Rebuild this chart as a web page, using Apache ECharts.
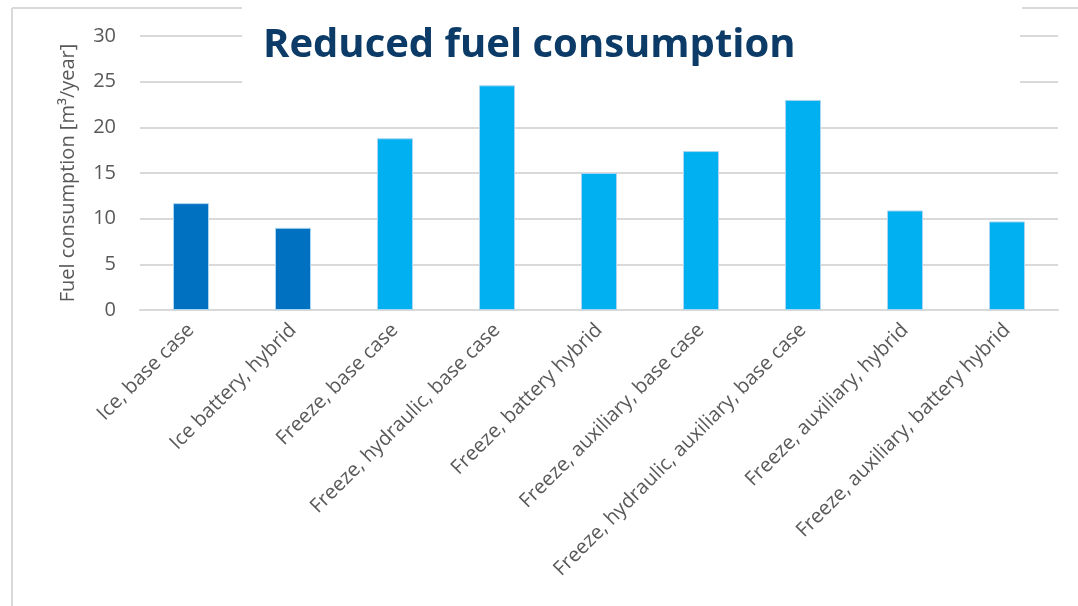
<!DOCTYPE html>
<html>
<head>
<meta charset="utf-8">
<title>Reduced fuel consumption</title>
<script src="https://cdn.jsdelivr.net/npm/echarts@6/dist/echarts.min.js"></script>
<style>
  html, body { margin: 0; padding: 0; background: #ffffff; }
  #chart { width: 1078px; height: 606px; }
</style>
</head>
<body>
<div id="chart"></div>
<script>
// Scenario names along the x axis
const categories = [
  'Ice, base case',
  'Ice battery, hybrid',
  'Freeze, base case',
  'Freeze, hydraulic, base case',
  'Freeze, battery hybrid',
  'Freeze, auxiliary, base case',
  'Freeze, hydraulic, auxiliary, base case',
  'Freeze, auxiliary, hybrid',
  'Freeze, auxiliary, battery hybrid'
];

// Yearly fuel consumption per scenario [m3/year]
const fuelConsumption = [11.7, 9.0, 18.8, 24.6, 15.0, 17.4, 23.0, 10.9, 9.7];

// Vessel group per scenario: 'ice' or 'freeze'
const vesselGroup = ['ice', 'ice', 'freeze', 'freeze', 'freeze', 'freeze', 'freeze', 'freeze', 'freeze'];

// Value axis ticks
const yTicks = [0, 5, 10, 15, 20, 25, 30];

const groupColors = { ice: '#0070C0', freeze: '#00B0F0' };
const textFont = '"Open Sans", "Noto Sans", sans-serif';

const chart = echarts.init(document.getElementById('chart'), null, { renderer: 'canvas' });

chart.setOption({
  backgroundColor: '#ffffff',
  animation: false,
  grid: { left: 140, right: 20, top: 36, bottom: 296 },
  title: {
    text: 'Reduced fuel consumption',
    left: 258,
    top: 21,
    textStyle: {
      fontFamily: textFont,
      fontWeight: 'bold',
      fontSize: 40,
      color: '#0B3B66'
    }
  },
  graphic: [
    // white panel behind the title
    { type: 'rect', z: 1, shape: { x: 242, y: 0, width: 778, height: 84 }, style: { fill: '#ffffff' } },
    // slide frame lines
    { type: 'line', z: 3, shape: { x1: 12, y1: 8, x2: 12, y2: 606 }, style: { stroke: '#d9d9d9', lineWidth: 2 } },
    { type: 'line', z: 3, shape: { x1: 12, y1: 8, x2: 242, y2: 8 }, style: { stroke: '#d9d9d9', lineWidth: 2 } },
    { type: 'line', z: 3, shape: { x1: 1022, y1: 8, x2: 1078, y2: 8 }, style: { stroke: '#d9d9d9', lineWidth: 2 } }
  ],
  xAxis: {
    type: 'category',
    data: categories,
    axisLine: { show: true, lineStyle: { color: '#d9d9d9', width: 2 } },
    axisTick: { show: false },
    axisLabel: {
      rotate: 45,
      interval: 0,
      margin: 17,
      fontFamily: textFont,
      fontSize: 20,
      color: '#595959'
    }
  },
  yAxis: {
    type: 'value',
    min: yTicks[0],
    max: yTicks[yTicks.length - 1],
    interval: yTicks[1] - yTicks[0],
    name: 'Fuel consumption [m\u00B3/year]',
    nameLocation: 'middle',
    nameGap: 62,
    nameTextStyle: {
      fontFamily: textFont,
      fontSize: 20,
      color: '#595959'
    },
    axisLine: { show: false },
    axisTick: { show: false },
    axisLabel: {
      margin: 24,
      fontFamily: textFont,
      fontSize: 20,
      color: '#595959'
    },
    splitLine: { lineStyle: { color: '#d9d9d9', width: 2 } }
  },
  series: [{
    type: 'bar',
    z: 2,
    barWidth: 36,
    data: fuelConsumption.map((v, i) => ({
      value: v,
      itemStyle: {
        color: groupColors[vesselGroup[i]],
        borderColor: '#a9d5f0',
        borderWidth: 1
      }
    }))
  }]
});
</script>
</body>
</html>
